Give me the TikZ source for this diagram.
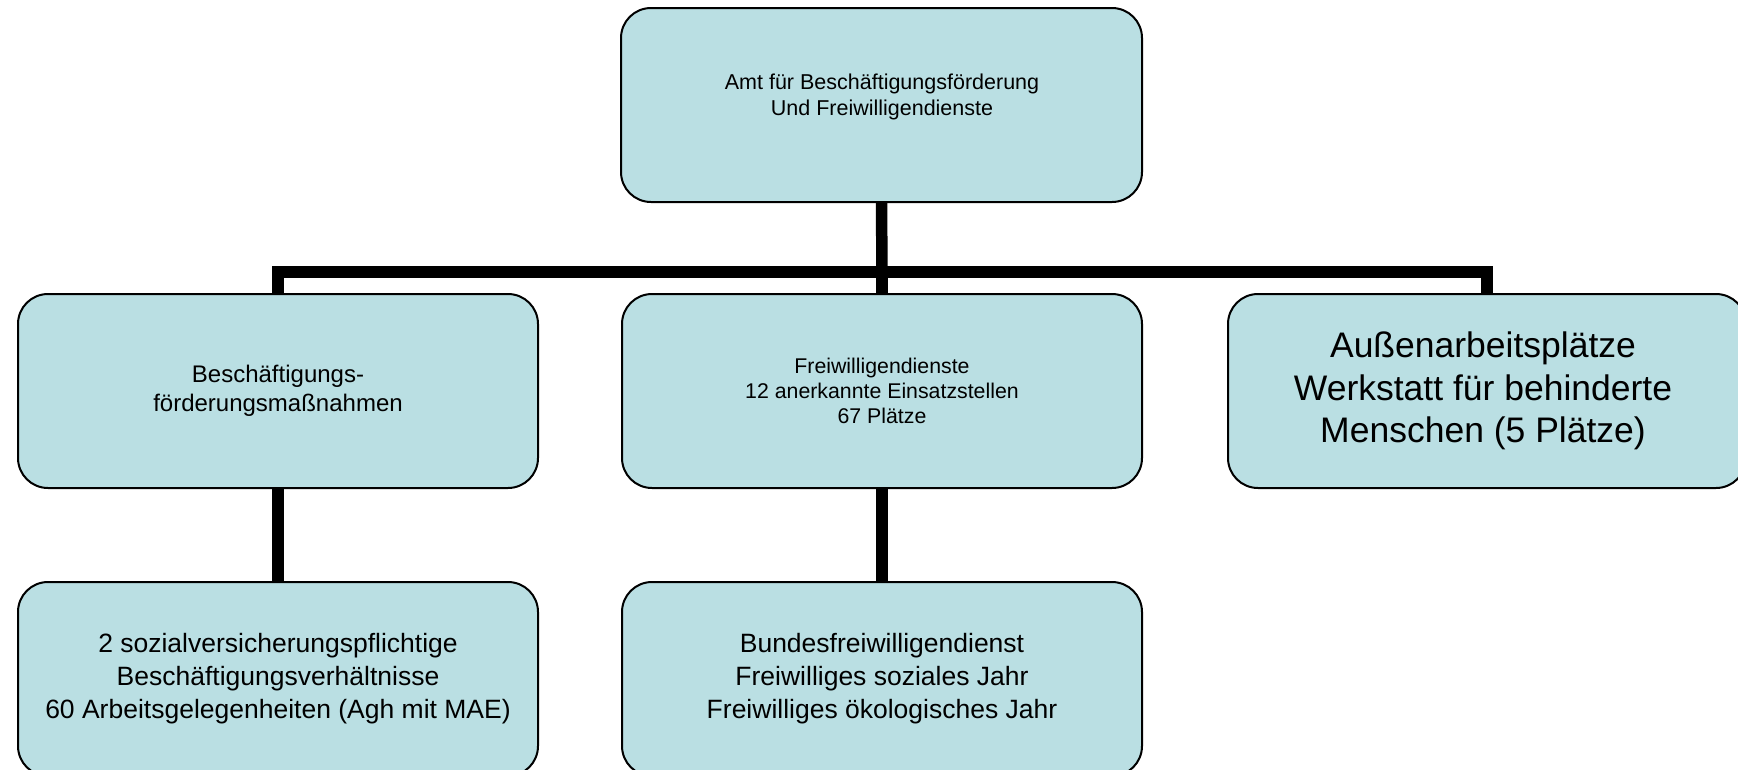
\documentclass[tikz,border=0pt]{standalone}
\usepackage{fontspec}
\setmainfont{Liberation Sans}
\definecolor{boxfill}{RGB}{186,223,227}
\begin{document}
\begin{tikzpicture}[x=1pt,y=-1pt,
  orgbox/.style={draw=black, line width=2pt, fill=boxfill, rounded corners=30pt,
    rectangle, inner sep=0pt, minimum height=194pt},
  conn/.style={line width=11.5pt, line join=miter, line cap=butt},
  txt/.style={align=center, inner sep=0pt}]
\useasboundingbox (0,0) rectangle (1738,769);
% boxes
\node[orgbox, minimum width=521pt] (top) at (881.5,105) {};
\node[orgbox, minimum width=520pt] (left) at (278,391) {};
\node[orgbox, minimum width=520pt] (mid) at (882,391) {};
\node[orgbox, minimum width=518pt] (right) at (1487,391) {};
\node[orgbox, minimum width=520pt] (bl) at (278,679) {};
\node[orgbox, minimum width=520pt] (bm) at (882,679) {};
% bus coordinates
\coordinate (busL) at (278,272);
\coordinate (busM) at (882,272);
\coordinate (busR) at (1487,272);
% connectors
\draw[conn] (top.south) -- (busM);
\draw[conn] (left.north) -- (busL) -- (busR) -- (right.north);
\draw[conn] (busM) -- (mid.north);
\draw[conn] (left.south) -- (bl.north);
\draw[conn] (mid.south) -- (bm.north);
% texts
\node[txt, font=\fontsize{21.5}{25.5}\selectfont] (toptext) at (882,97)
  {Amt für Beschäftigungsförderung\\Und Freiwilligendienste};
\node[txt, font=\fontsize{24}{28.5}\selectfont] (lefttext) at (left.center)
  {Beschäftigungs-\\förderungsmaßnahmen};
\node[txt, font=\fontsize{21.3}{25}\selectfont] (midtext) at (mid.center)
  {Freiwilligendienste\\12 anerkannte Einsatzstellen\\67 Plätze};
\node[txt, font=\fontsize{35.5}{42.5}\selectfont] (righttext) at (1483,391)
  {Außenarbeitsplätze\\Werkstatt für behinderte\\Menschen (5 Plätze)};
\node[txt, font=\fontsize{26.5}{33}\selectfont] (bltext) at (bl.center)
  {2 sozialversicherungspflichtige\\Beschäftigungsverhältnisse\\60 Arbeitsgelegenheiten (Agh mit MAE)};
\node[txt, font=\fontsize{26.5}{33}\selectfont] (bmtext) at (bm.center)
  {Bundesfreiwilligendienst\\Freiwilliges soziales Jahr\\Freiwilliges ökologisches Jahr};
\end{tikzpicture}
\end{document}
